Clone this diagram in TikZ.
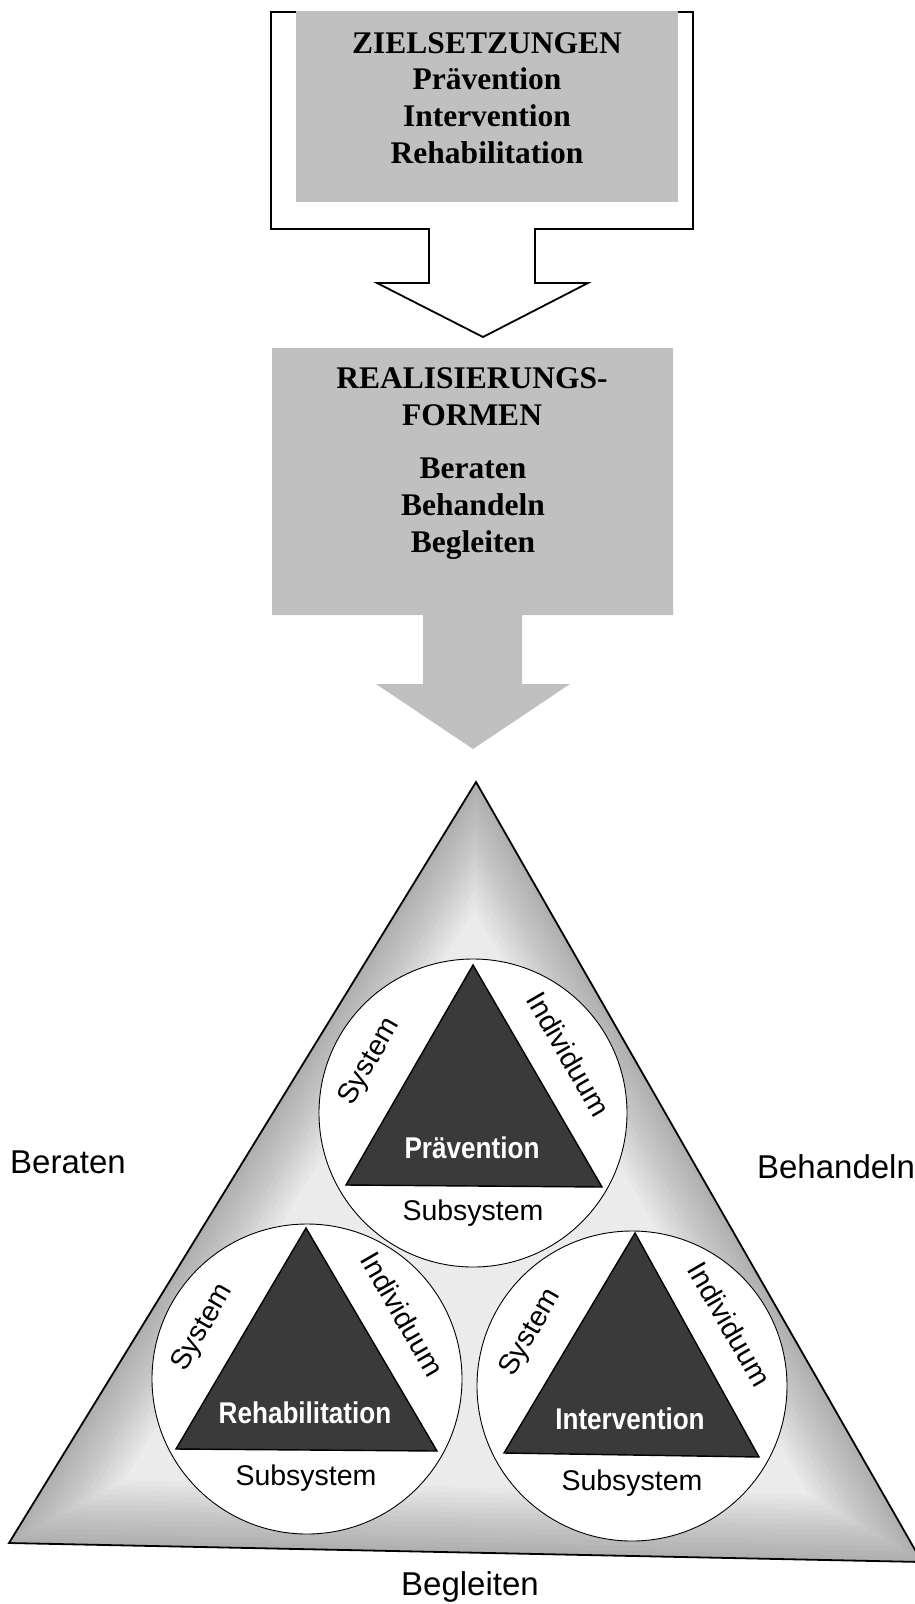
\documentclass[tikz,border=0pt]{standalone}
\usepackage{fontspec}
\setmainfont{Liberation Serif}
\setsansfont{Liberation Sans}
\newfontfamily\condsans{Liberation Sans}[FakeStretch=0.87]
\definecolor{boxgray}{RGB}{192,192,192}
\definecolor{darktri}{RGB}{58,58,58}
\begin{document}
\begin{tikzpicture}[x=1pt,y=-1pt,
  title/.style={font=\bfseries\fontsize{31.5}{37}\selectfont, anchor=base, inner sep=0pt},
  lbl/.style={font=\sffamily\fontsize{28.5}{30}\selectfont, inner sep=0pt},
  sidelbl/.style={font=\sffamily\fontsize{33}{36}\selectfont, anchor=base, inner sep=0pt},
  tname/.style={font=\condsans\bfseries\fontsize{30}{32}\selectfont, text=white, anchor=base, inner sep=0pt},
  ring/.style={circle, fill=white, draw=black, line width=0.9pt, minimum size=308pt, inner sep=0pt},
  darktriangle/.style={fill=darktri, draw=black, line width=1.4pt, line join=miter},
  frame/.style={draw=black, fill=white, line width=1.8pt, line join=miter}
]
\useasboundingbox (0,0) rectangle (915,1604);

% ---------- top: Zielsetzungen with outlined arrow ----------
\draw[frame] (271,12) -- (271,229) -- (429,229) -- (429,283) -- (377,283)
  -- (483,337) -- (588,283) -- (535,283) -- (535,229) -- (693,229) -- (693,12) -- cycle;
\fill[boxgray] (296,11) rectangle (678,202);
\node[title] (z1) at (487,53) {ZIELSETZUNGEN};
\node[title] (z2) at (487,89) {Prävention};
\node[title] (z3) at (487,126) {Intervention};
\node[title] (z4) at (487,163) {Rehabilitation};

% ---------- middle: Realisierungsformen with grey arrow ----------
\fill[boxgray] (272,348) -- (673,348) -- (673,615) -- (522,615) -- (522,684) -- (570,684)
  -- (473,749) -- (376,684) -- (423,684) -- (423,615) -- (272,615) -- cycle;
\node[title] (r1) at (472,388) {REALISIERUNGS-};
\node[title] (r2) at (472,425) {FORMEN};
\node[title] (r3) at (473,478) {Beraten};
\node[title] (r4) at (473,515) {Behandeln};
\node[title] (r5) at (473,552) {Begleiten};

% ---------- big triangle ----------
\coordinate (A) at (476,782);
\coordinate (B) at (9,1543);
\coordinate (C) at (922,1562);
\fill[black!8] (A) -- (B) -- (C) -- cycle;
\begin{scope}
  \clip (A) -- (B) -- (C) -- cycle;
  \foreach \w in {130,120,...,10}
    \draw[black, opacity=0.018, line width=\w pt, line join=round] (A) -- (B) -- (C) -- cycle;
\end{scope}
\draw[line width=1.8pt, line join=miter] (A) -- (B) -- (C) -- cycle;

% ---------- circles ----------
\node[ring] (cT) at (473,1113) {};
\node[ring, minimum size=310pt] (cL) at (307,1379) {};
\node[ring, minimum size=310pt] (cR) at (632,1386) {};

% dark triangles
\draw[darktriangle] (473,965) -- (346,1185) -- (602,1187) -- cycle;
\draw[darktriangle] (306,1228) -- (176,1449) -- (437,1451) -- cycle;
\draw[darktriangle] (635,1233) -- (504,1453) -- (759,1457) -- cycle;

% top circle labels
\node[tname] (tP) at (472,1158) {Prävention};
\node[lbl, rotate=60] (sT) at (370,1062) {System};
\node[lbl, rotate=-60] (iT) at (569,1054) {Individuum};
\node[lbl, anchor=base] (uT) at (473,1220) {Subsystem};

% bottom-left circle labels
\node[tname] (tL) at (305,1423) {Rehabilitation};
\node[lbl, rotate=60] (sL) at (203,1328) {System};
\node[lbl, rotate=-60] (iL) at (403,1314) {Individuum};
\node[lbl, anchor=base] (uL) at (306,1485) {Subsystem};

% bottom-right circle labels
\node[tname] (tR) at (630,1429) {Intervention};
\node[lbl, rotate=60] (sR) at (531,1333) {System};
\node[lbl, rotate=-60] (iR) at (730,1324) {Individuum};
\node[lbl, anchor=base] (uR) at (632,1490) {Subsystem};

% outer labels
\node[sidelbl] (lB1) at (68,1173) {Beraten};
\node[sidelbl] (lB2) at (836,1178) {Behandeln};
\node[sidelbl] (lB3) at (470,1595) {Begleiten};
\end{tikzpicture}
\end{document}
